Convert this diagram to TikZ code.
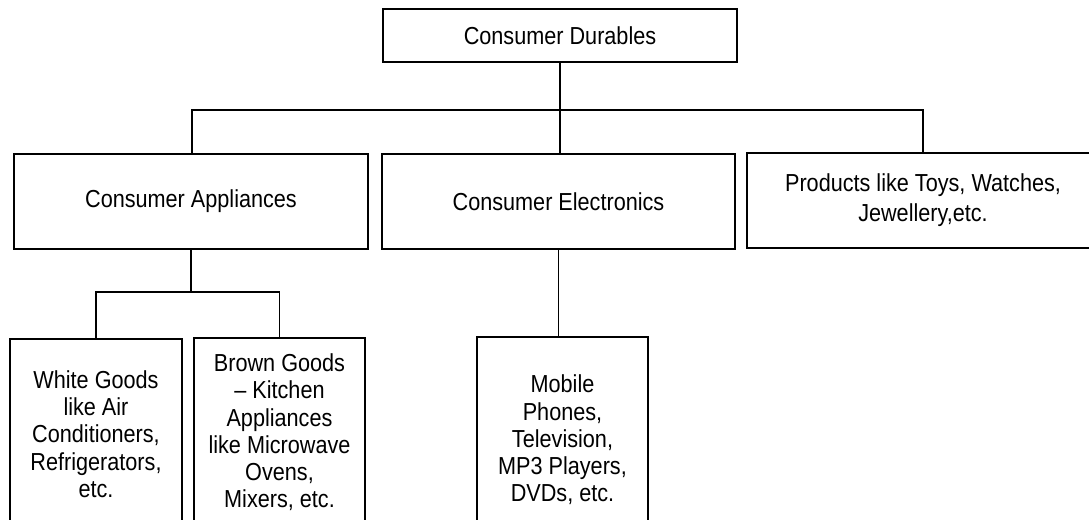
\documentclass[tikz,border=0pt]{standalone}
\usepackage{fontspec}
\setmainfont{Liberation Sans}[FakeStretch=0.88]
\begin{document}
\begin{tikzpicture}[x=0.02cm,y=-0.02cm,
  box/.style={draw=black,line width=1pt,fill=white,align=center,inner sep=0pt,
    font=\fontsize{14}{15.5}\selectfont},
  conn/.style={draw=black,line width=0.8pt}]
\useasboundingbox (0,0) rectangle (1089,520);
\clip (0,0) rectangle (1089,520);
\node[box,minimum width=7.08cm,minimum height=1.06cm] (top) at (560,35.5) {Consumer Durables};
\node[box,minimum width=7.08cm,minimum height=1.9cm] (app) at (191,201.5) {Consumer Appliances};
\node[box,minimum width=7.06cm,minimum height=1.9cm] (ele) at (558.5,201.5) {Consumer Electronics};
\node[box,minimum width=7.04cm,minimum height=1.9cm,font=\fontsize{14}{17}\selectfont] (prod) at (923,200.5) {Products like Toys, Watches,\\Jewellery,etc.};
\node[box,minimum width=3.44cm,minimum height=3.8cm] (wg) at (96,434) {White Goods\\like Air\\Conditioners,\\Refrigerators,\\etc.};
\node[box,minimum width=3.42cm,minimum height=3.78cm] (bg) at (279.5,432.5) {Brown Goods\\– Kitchen\\Appliances\\like Microwave\\Ovens,\\Mixers, etc.};
\node[box,minimum width=3.42cm,minimum height=4.12cm] (mob) at (562.5,440) {Mobile\\Phones,\\Television,\\MP3 Players,\\DVDs, etc.};
\coordinate (bus) at (0,110);
\coordinate (bus2) at (0,292);
\draw[conn] (top.south) -- (top.south |- ele.north);
\draw[conn] (app.north -| 192,0) |- (bus -| prod.north) -- (prod.north);
\draw[conn] (app.south) -- (app.south |- bus2);
\draw[conn] (wg.north) |- (bg.north |- bus2) -- (bg.north);
\draw[conn] (ele.south) -- (ele.south |- mob.north);
\end{tikzpicture}
\end{document}
